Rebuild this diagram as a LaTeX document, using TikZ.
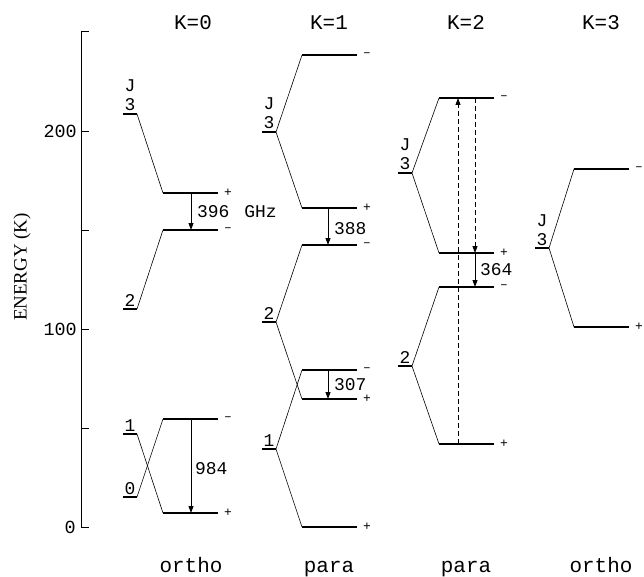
\documentclass[tikz,border=0pt]{standalone}
\usepackage{fontspec}
\setmainfont{Liberation Serif}
\setmonofont{Liberation Mono}
\usetikzlibrary{arrows.meta}

% energy level: name, left x, y, parity sign
\newcommand\drawlevel[4]{%
  \coordinate (#1) at (#2,#3);
  \coordinate (#1e) at (#2+55,#3);
  \draw[levelline] (#1) -- (#1e);
  \node[sign] (#1s) at (#2+65,#3) {#4};
}
% J stub on the left of a column: name, left x, y, J value
\newcommand\drawstub[4]{%
  \coordinate (#1l) at (#2,#3);
  \coordinate (#1) at (#2+14,#3);
  \draw[levelline] (#1l) -- (#1);
  \node[jlab] (#1t) at (#2+7,#3-3) {#4};
}

\begin{document}
\begin{tikzpicture}[x=1bp,y=-1bp,
  levelline/.style={line width=1.1bp},
  conn/.style={line width=0.6bp},
  axisline/.style={line width=1bp},
  trans/.style={line width=0.9bp,-{Triangle[length=7bp,width=5bp]}},
  dashtrans/.style={trans,dash pattern=on 5bp off 3bp},
  sign/.style={font=\fontsize{13}{13}\selectfont\ttfamily,inner sep=0pt},
  jlab/.style={font=\fontsize{18}{19}\selectfont\ttfamily,inner sep=0pt,anchor=base},
  numlab/.style={font=\fontsize{18}{18}\selectfont\ttfamily,inner sep=0pt,anchor=west},
  ticklab/.style={font=\fontsize{18.5}{18.5}\selectfont\ttfamily,inner sep=0pt,anchor=east},
  head/.style={font=\fontsize{21}{21}\selectfont\ttfamily,inner sep=0pt},
  foot/.style={head,anchor=base},
]
\useasboundingbox (0,0) rectangle (644,577);

% energy axis
\coordinate (ax0) at (81,527);
\coordinate (ax250) at (81,32);
\draw[axisline] (ax0) -- (ax250);
\foreach \e in {0,50,...,250}
  \draw[axisline] (81,527-1.98*\e) -- (89,527-1.98*\e);
\node[ticklab] (t0) at (76,527) {0};
\node[ticklab] (t100) at (77,329) {100};
\node[ticklab] (t200) at (77,131) {200};
\node[font=\fontsize{19}{19}\selectfont\rmfamily,rotate=90,inner sep=0pt] (elab) at (22,267) {ENERGY (K)};

% column headings and species
\node[head] (h0) at (193,23) {K=0};
\node[head] (h1) at (329,23) {K=1};
\node[head] (h2) at (466,23) {K=2};
\node[head] (h3) at (601,23) {K=3};
\node[foot] (f0) at (191,572) {ortho};
\node[foot] (f1) at (329,572) {para};
\node[foot] (f2) at (466,572) {para};
\node[foot] (f3) at (601,572) {ortho};

% ---- K=0 ----
\drawstub{k0s3}{123}{114}{3}
\drawstub{k0s2}{123}{309}{2}
\drawstub{k0s1}{123}{434}{1}
\drawstub{k0s0}{123}{497}{0}
\node[jlab] (k0J) at (130,92) {J};
\drawlevel{k0a}{163}{193}{+}
\drawlevel{k0b}{163}{230}{–}
\drawlevel{k0c}{163}{419}{–}
\drawlevel{k0d}{163}{513}{+}
\draw[conn] (k0s3) -- (k0a);
\draw[conn] (k0s2) -- (k0b);
\draw[conn] (k0s1) -- (k0d);
\draw[conn] (k0s0) -- (k0c);
\coordinate (x0) at (191,0);
\draw[trans] (x0 |- k0a) -- (x0 |- k0b);
\draw[trans] (x0 |- k0c) -- (x0 |- k0d);
\node[numlab] (n396) at (197,212) {396\hspace{15bp}GHz};
\node[numlab] (n984) at (195,469) {984};

% ---- K=1 ----
\drawstub{k1s3}{262}{132}{3}
\drawstub{k1s2}{262}{322}{2}
\drawstub{k1s1}{262}{449}{1}
\node[jlab] (k1J) at (269,110) {J};
\drawlevel{k1a}{302}{55}{–}
\drawlevel{k1b}{302}{208}{+}
\drawlevel{k1c}{302}{245}{–}
\drawlevel{k1d}{302}{370}{–}
\drawlevel{k1e}{302}{399}{+}
\drawlevel{k1f}{302}{527}{+}
\draw[conn] (k1s3) -- (k1a);
\draw[conn] (k1s3) -- (k1b);
\draw[conn] (k1s2) -- (k1c);
\draw[conn] (k1s2) -- (k1e);
\draw[conn] (k1s1) -- (k1d);
\draw[conn] (k1s1) -- (k1f);
\coordinate (x1) at (328,0);
\draw[trans] (x1 |- k1b) -- (x1 |- k1c);
\draw[trans] (x1 |- k1d) -- (x1 |- k1e);
\node[numlab] (n388) at (334,229) {388};
\node[numlab] (n307) at (334,385) {307};

% ---- K=2 ----
\drawstub{k2s3}{398}{173}{3}
\drawstub{k2s2}{398}{366}{2}
\node[jlab] (k2J) at (405,151) {J};
\drawlevel{k2a}{439}{98}{–}
\drawlevel{k2b}{439}{253}{+}
\drawlevel{k2c}{439}{287}{–}
\drawlevel{k2d}{439}{444}{+}
\draw[conn] (k2s3) -- (k2a);
\draw[conn] (k2s3) -- (k2b);
\draw[conn] (k2s2) -- (k2c);
\draw[conn] (k2s2) -- (k2d);
\coordinate (x2u) at (458,0);
\coordinate (x2d) at (475,0);
\draw[dashtrans] (x2u |- k2d) -- (x2u |- k2a);
\draw[dashtrans] (x2d |- k2a) -- (x2d |- k2b);
\draw[trans] (x2d |- k2b) -- (x2d |- k2c);
\node[numlab] (n364) at (480,270) {364};

% ---- K=3 ----
\drawstub{k3s3}{535}{248}{3}
\node[jlab] (k3J) at (542,226) {J};
\drawlevel{k3a}{574}{169}{–}
\drawlevel{k3b}{574}{327}{+}
\draw[conn] (k3s3) -- (k3a);
\draw[conn] (k3s3) -- (k3b);
\end{tikzpicture}
\end{document}
